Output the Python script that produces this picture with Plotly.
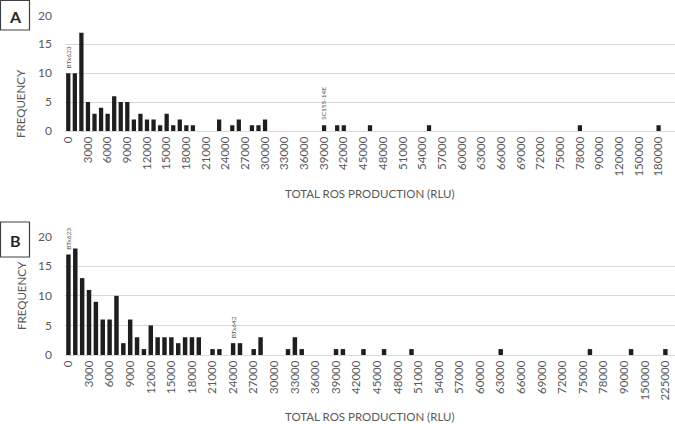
import plotly.graph_objects as go

# bins (RLU) - first 79 bins are 1000 wide, the tail is irregular
bins_a = [str(1000 * i) for i in range(79)] + [
    "82000", "86000", "90000", "100000", "110000", "120000",
    "130000", "140000", "150000", "160000", "170000", "180000"]
bins_b = [str(1000 * i) for i in range(79)] + [
    "82000", "86000", "90000", "110000", "130000", "150000",
    "175000", "200000", "225000"]

freq_a = [10, 10, 17, 5, 3, 4, 3, 6, 5, 5, 2, 3, 2, 2, 1, 3, 1, 2, 1, 1,
          0, 0, 0, 2, 0, 1, 2, 0, 1, 1, 2, 0, 0, 0, 0, 0, 0, 0, 0, 1,
          0, 1, 1, 0, 0, 0, 1, 0, 0, 0, 0, 0, 0, 0, 0, 1, 0, 0, 0, 0,
          0, 0, 0, 0, 0, 0, 0, 0, 0, 0, 0, 0, 0, 0, 0, 0, 0, 0, 1, 0,
          0, 0, 0, 0, 0, 0, 0, 0, 0, 0, 1]
freq_b = [17, 18, 13, 11, 9, 6, 6, 10, 2, 6, 3, 1, 5, 3, 3, 3, 2, 3, 3, 3,
          0, 1, 1, 0, 2, 2, 0, 1, 3, 0, 0, 0, 1, 3, 1, 0, 0, 0, 0, 1,
          1, 0, 0, 1, 0, 0, 1, 0, 0, 0, 1, 0, 0, 0, 0, 0, 0, 0, 0, 0,
          0, 0, 0, 1, 0, 0, 0, 0, 0, 0, 0, 0, 0, 0, 0, 0, 1, 0, 0, 0,
          0, 0, 1, 0, 0, 0, 0, 1]

# named genotypes marked above their bins
labels_a = {"0": "BTx623", "39000": "SC155-14E"}
labels_b = {"0": "BTx623", "24000": "BTx642"}

W, H = 675, 424
L, R, T, B = 65, 0, 0, 0
FONT = "Lato"
GREY = "#595959"
BAR = "#1e1e1e"


def px_x(p):
    return (p - L) / (W - L - R)


def px_y(p):
    return 1 - p / H


def bar(bins, freq, xa, ya):
    return go.Bar(
        x=bins, y=freq, xaxis=xa, yaxis=ya,
        marker=dict(color=BAR, line=dict(width=0)),
        hoverinfo="x+y", showlegend=False)


fig = go.Figure([bar(bins_a, freq_a, "x", "y"),
                 bar(bins_b, freq_b, "x2", "y2")])

xcommon = dict(type="category", tickangle=-90, showgrid=False,
               showline=True, linecolor="#d9d9d9", linewidth=1,
               ticks="", tickfont=dict(family=FONT, size=11.5, color=GREY),
               automargin=False)
ycommon = dict(range=[0, 20], dtick=5, showgrid=True, gridcolor="#d9d9d9",
               gridwidth=1, zeroline=False, showline=False, ticks="",
               ticklabelstandoff=12,
               tickfont=dict(family=FONT, size=12, color=GREY),
               automargin=False)

fig.update_layout(
    width=W, height=H,
    margin=dict(l=L, r=R, t=T, b=B, pad=0),
    plot_bgcolor="white", paper_bgcolor="white",
    bargap=0.35,
    font=dict(family=FONT, color=GREY),
    xaxis=dict(xcommon, domain=[0, 1], anchor="y",
               categoryorder="array", categoryarray=bins_a,
               tickvals=bins_a[::3], range=[-0.5, 92.5]),
    yaxis=dict(ycommon, domain=[px_y(131), px_y(15.3)], anchor="x"),
    xaxis2=dict(xcommon, domain=[0, 1], anchor="y2",
                categoryorder="array", categoryarray=bins_b,
                tickvals=bins_b[::3], range=[-0.5, 88.4]),
    yaxis2=dict(ycommon, domain=[px_y(355), px_y(236.7)], anchor="x2"),
)

ann = []
for labels, bins, freq, xr, yr in ((labels_a, bins_a, freq_a, "x", "y"),
                                   (labels_b, bins_b, freq_b, "x2", "y2")):
    for b, name in labels.items():
        i = bins.index(b)  # category axis: position by index
        ann.append(dict(text=name, xref=xr, yref=yr, x=i, y=freq[i],
                        xanchor="center", yanchor="bottom", yshift=4,
                        textangle=-90, showarrow=False, borderpad=0,
                        font=dict(family=FONT, size=6.5, color=GREY)))
for yy in (193, 416):
    ann.append(dict(text="TOTAL ROS PRODUCTION (RLU)", xref="paper", yref="paper",
                    x=px_x(370), y=px_y(yy), xanchor="center", yanchor="middle",
                    showarrow=False,
                    font=dict(family=FONT, size=11.5, color=GREY)))
for yy in (104, 296):
    ann.append(dict(text="FREQUENCY", xref="paper", yref="paper",
                    x=px_x(21), y=px_y(yy), xanchor="center", yanchor="middle",
                    textangle=-90, showarrow=False,
                    font=dict(family=FONT, size=11.5, color=GREY)))
shapes = []
for lab, y0, y1 in (("A", 0.5, 30), ("B", 222, 257)):
    shapes.append(dict(type="rect", xref="paper", yref="paper",
                       x0=px_x(0.5), x1=px_x(29.5), y0=px_y(y1), y1=px_y(y0),
                       line=dict(color="#404040", width=1.2)))
    ann.append(dict(text="<b>%s</b>" % lab, xref="paper", yref="paper",
                    x=px_x(15), y=px_y((y0 + y1) / 2 + 1),
                    xanchor="center", yanchor="middle", showarrow=False,
                    font=dict(family=FONT, size=16, color="#262626")))
fig.update_layout(annotations=ann, shapes=shapes)

fig.write_html("out.html", config={"displayModeBar": False},
               post_script="document.body.style.margin='0';")
